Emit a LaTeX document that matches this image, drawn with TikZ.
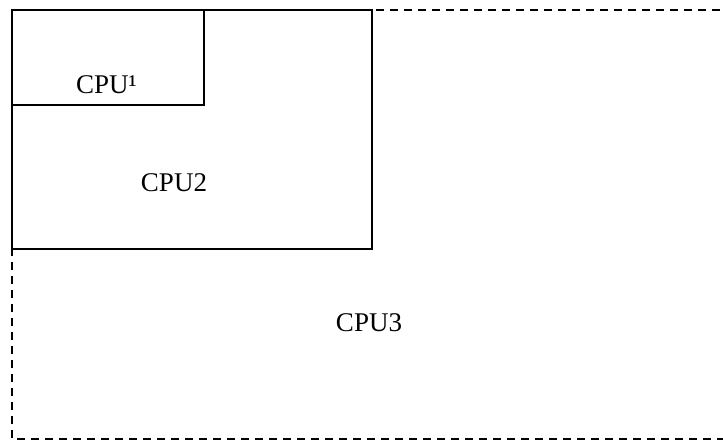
\documentclass[tikz,border=0pt]{standalone}
\usepackage{fontspec}
\setmainfont{Liberation Serif}
\newlength{\du}
\setlength{\du}{15\unitlength}
\begin{document}
\begin{tikzpicture}
\pgftransformxscale{1.000000}
\pgftransformyscale{-1.000000}
\useasboundingbox (0.000000\du,0.000000\du) rectangle (48.200000\du,29.466667\du);
\definecolor{dialinecolor}{rgb}{0.000000, 0.000000, 0.000000}
\pgfsetstrokecolor{dialinecolor}
\definecolor{dialinecolor}{rgb}{1.000000, 1.000000, 1.000000}
\pgfsetfillcolor{dialinecolor}
\fontsize{27}{32}\selectfont
% outer box, dashed
\pgfsetlinewidth{0.090000\du}
\pgfsetdash{{0.533333\du}{0.400000\du}}{0pt}
\pgfsetbuttcap
{
\definecolor{dialinecolor}{rgb}{0.000000, 0.000000, 0.000000}
\pgfsetstrokecolor{dialinecolor}
\draw (0.800000\du,0.666667\du)--(49.000000\du,0.666667\du)--(49.000000\du,29.266667\du)--(0.800000\du,29.266667\du)--cycle;
}
% middle box
\pgfsetlinewidth{0.090000\du}
\pgfsetdash{}{0pt}
\pgfsetbuttcap
{
\definecolor{dialinecolor}{rgb}{0.000000, 0.000000, 0.000000}
\pgfsetstrokecolor{dialinecolor}
\draw (0.800000\du,0.666667\du)--(24.800000\du,0.666667\du)--(24.800000\du,16.600000\du)--(0.800000\du,16.600000\du)--cycle;
}
% inner box
\pgfsetlinewidth{0.090000\du}
\pgfsetdash{}{0pt}
\pgfsetbuttcap
{
\definecolor{dialinecolor}{rgb}{0.000000, 0.000000, 0.000000}
\pgfsetstrokecolor{dialinecolor}
\draw (0.800000\du,0.666667\du)--(13.600000\du,0.666667\du)--(13.600000\du,7.000000\du)--(0.800000\du,7.000000\du)--cycle;
}
% setfont left to latex
\definecolor{dialinecolor}{rgb}{0.000000, 0.000000, 0.000000}
\pgfsetstrokecolor{dialinecolor}
\node[anchor=base] (cpuone) at (7.100000\du,6.200000\du){CPU¹};
% setfont left to latex
\definecolor{dialinecolor}{rgb}{0.000000, 0.000000, 0.000000}
\pgfsetstrokecolor{dialinecolor}
\node[anchor=base] (cputwo) at (11.600000\du,12.780000\du){CPU2};
% setfont left to latex
\definecolor{dialinecolor}{rgb}{0.000000, 0.000000, 0.000000}
\pgfsetstrokecolor{dialinecolor}
\node[anchor=base] (cputhree) at (24.600000\du,22.130000\du){CPU3};
\end{tikzpicture}
\end{document}
